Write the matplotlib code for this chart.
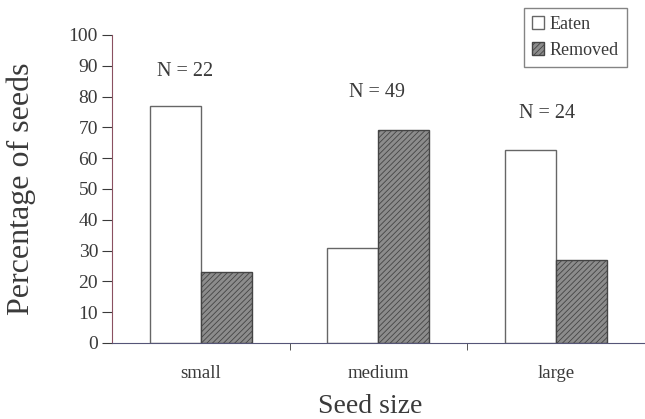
import numpy as np
import matplotlib
matplotlib.use('Agg')
import matplotlib.pyplot as plt

plt.rcParams['font.family'] = ['Liberation Serif', 'DejaVu Serif']
plt.rcParams['hatch.linewidth'] = 0.6

sizes = ['small', 'medium', 'large']
eaten = [77, 31, 62.5]
removed = [23, 69, 27]
n_labels = ['N = 22', 'N = 49', 'N = 24']
n_label_pos = [(-0.09, 88.2), (0.99, 81.4), (1.95, 74.5)]

ink = '#3a3a3a'
fig = plt.figure(figsize=(6.45, 4.19), dpi=100)
ax = fig.add_axes([0.1736, 0.1814, 0.8264, 0.7351])

x = np.arange(len(sizes))
w = 0.287
ax.bar(x - w/2, eaten, w, color='white', edgecolor='#666666', linewidth=1.0, label='Eaten')
ax.bar(x + w/2, removed, w, color='#8c8c8c', edgecolor='#444444', hatch='//////',
       linewidth=1.0, label='Removed')

for txt, (tx, ty) in zip(n_labels, n_label_pos):
    ax.text(tx, ty, txt, ha='center', va='center', fontsize=14.5, color=ink)

ax.set_xlim(-0.5, 2.5)
ax.set_ylim(0, 100)
ax.set_yticks(np.arange(0, 101, 10))
ax.set_xticks(x)
ax.set_xticklabels(sizes)
ax.set_xticks([0.5, 1.5], minor=True)
ax.tick_params(axis='x', which='major', length=0, pad=16, labelsize=13.5, labelcolor=ink)
ax.tick_params(axis='x', which='minor', length=5, direction='out', color=ink)
ax.tick_params(axis='y', length=7, pad=3, direction='out', labelsize=14, labelcolor=ink, color=ink)

for s in ['top', 'right']:
    ax.spines[s].set_visible(False)
ax.spines['left'].set_color('#8a5060')
ax.spines['bottom'].set_color('#555577')

ax.set_ylabel('Percentage of seeds', fontsize=23, color=ink)
ax.set_xlabel('Seed size', fontsize=20, color=ink)
ax.yaxis.set_label_coords(-0.142, 0.5)
ax.xaxis.set_label_coords(0.484, -0.166)

leg = fig.legend(loc='upper right', bbox_to_anchor=(0.972, 0.981), fontsize=13,
                 frameon=True, fancybox=False, edgecolor='#666666',
                 handlelength=0.7, handleheight=0.7, handletextpad=0.3,
                 borderpad=0.45, labelspacing=0.5, borderaxespad=0)
leg.get_frame().set_linewidth(1.0)
for t in leg.get_texts():
    t.set_color(ink)

fig.savefig('out.png', dpi=100)
